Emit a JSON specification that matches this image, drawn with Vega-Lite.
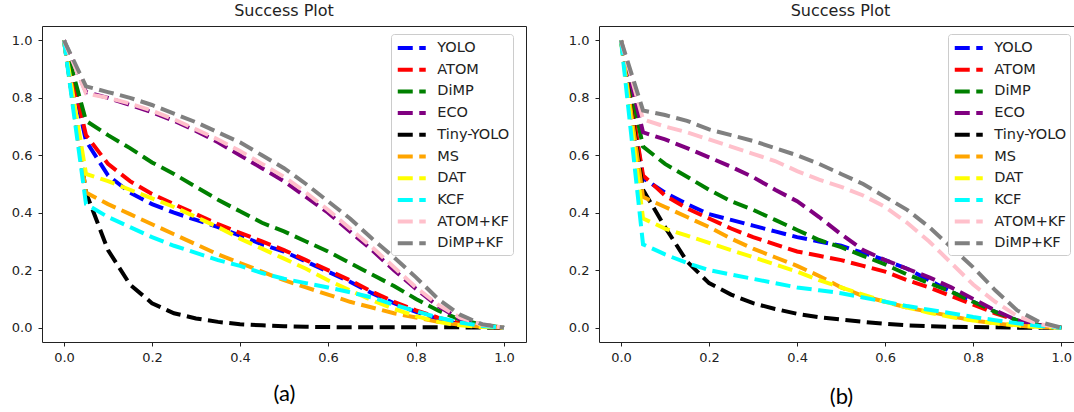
{
"$schema": "https://vega.github.io/schema/vega-lite/v6.json",
"padding": {"left": 10, "top": 2, "right": 0, "bottom": 0},
"background": "white",
"spacing": 40,
"config": {
 "font": "DejaVu Sans",
 "view": {"stroke": "#222222", "strokeWidth": 1},
 "axis": {"grid": false, "domain": false, "tickColor": "#222222", "tickSize": 4, "labelFontSize": 13, "labelColor": "#222222", "labelFont": "DejaVu Sans"},
 "title": {"fontSize": 16, "fontWeight": "normal", "color": "#222222", "offset": 7, "font": "DejaVu Sans"},
 "legend": {"orient": "none", "legendX": 349, "legendY": 8, "padding": 3, "fillColor": "white", "strokeColor": "#cccccc", "cornerRadius": 3, "labelFontSize": 14.5, "labelColor": "#222222", "labelFont": "DejaVu Sans", "symbolType": "M-1.6,0H1.6", "symbolSize": 306, "symbolStrokeWidth": 4, "symbolDash": [15, 6.5], "symbolOffset": 6.75, "rowPadding": 2.7, "labelOffset": 14.5, "title": null}
},
"datasets": {
"a": [
{"s":"YOLO","x":0,"y":1},{"s":"YOLO","x":0.05,"y":0.65},{"s":"YOLO","x":0.1,"y":0.53},{"s":"YOLO","x":0.15,"y":0.47},{"s":"YOLO","x":0.2,"y":0.43},{"s":"YOLO","x":0.25,"y":0.40},{"s":"YOLO","x":0.3,"y":0.375},{"s":"YOLO","x":0.35,"y":0.35},{"s":"YOLO","x":0.4,"y":0.32},{"s":"YOLO","x":0.45,"y":0.29},{"s":"YOLO","x":0.5,"y":0.265},{"s":"YOLO","x":0.55,"y":0.23},{"s":"YOLO","x":0.6,"y":0.195},{"s":"YOLO","x":0.65,"y":0.16},{"s":"YOLO","x":0.7,"y":0.12},{"s":"YOLO","x":0.75,"y":0.085},{"s":"YOLO","x":0.8,"y":0.055},{"s":"YOLO","x":0.85,"y":0.03},{"s":"YOLO","x":0.9,"y":0.012},{"s":"YOLO","x":0.95,"y":0.004},{"s":"YOLO","x":1,"y":0},
{"s":"ATOM","x":0,"y":1},{"s":"ATOM","x":0.05,"y":0.67},{"s":"ATOM","x":0.1,"y":0.57},{"s":"ATOM","x":0.15,"y":0.51},{"s":"ATOM","x":0.2,"y":0.465},{"s":"ATOM","x":0.25,"y":0.43},{"s":"ATOM","x":0.3,"y":0.395},{"s":"ATOM","x":0.35,"y":0.36},{"s":"ATOM","x":0.4,"y":0.33},{"s":"ATOM","x":0.45,"y":0.30},{"s":"ATOM","x":0.5,"y":0.27},{"s":"ATOM","x":0.55,"y":0.235},{"s":"ATOM","x":0.6,"y":0.20},{"s":"ATOM","x":0.65,"y":0.165},{"s":"ATOM","x":0.7,"y":0.125},{"s":"ATOM","x":0.75,"y":0.09},{"s":"ATOM","x":0.8,"y":0.06},{"s":"ATOM","x":0.85,"y":0.035},{"s":"ATOM","x":0.9,"y":0.015},{"s":"ATOM","x":0.95,"y":0.005},{"s":"ATOM","x":1,"y":0},
{"s":"DiMP","x":0,"y":1},{"s":"DiMP","x":0.05,"y":0.72},{"s":"DiMP","x":0.1,"y":0.67},{"s":"DiMP","x":0.15,"y":0.625},{"s":"DiMP","x":0.2,"y":0.575},{"s":"DiMP","x":0.25,"y":0.535},{"s":"DiMP","x":0.3,"y":0.49},{"s":"DiMP","x":0.35,"y":0.445},{"s":"DiMP","x":0.4,"y":0.405},{"s":"DiMP","x":0.45,"y":0.365},{"s":"DiMP","x":0.5,"y":0.335},{"s":"DiMP","x":0.55,"y":0.30},{"s":"DiMP","x":0.6,"y":0.265},{"s":"DiMP","x":0.65,"y":0.225},{"s":"DiMP","x":0.7,"y":0.185},{"s":"DiMP","x":0.75,"y":0.145},{"s":"DiMP","x":0.8,"y":0.10},{"s":"DiMP","x":0.85,"y":0.06},{"s":"DiMP","x":0.9,"y":0.028},{"s":"DiMP","x":0.95,"y":0.01},{"s":"DiMP","x":1,"y":0},
{"s":"ECO","x":0,"y":1},{"s":"ECO","x":0.05,"y":0.82},{"s":"ECO","x":0.1,"y":0.80},{"s":"ECO","x":0.15,"y":0.775},{"s":"ECO","x":0.2,"y":0.75},{"s":"ECO","x":0.25,"y":0.72},{"s":"ECO","x":0.3,"y":0.685},{"s":"ECO","x":0.35,"y":0.645},{"s":"ECO","x":0.4,"y":0.60},{"s":"ECO","x":0.45,"y":0.555},{"s":"ECO","x":0.5,"y":0.51},{"s":"ECO","x":0.55,"y":0.455},{"s":"ECO","x":0.6,"y":0.40},{"s":"ECO","x":0.65,"y":0.335},{"s":"ECO","x":0.7,"y":0.27},{"s":"ECO","x":0.75,"y":0.20},{"s":"ECO","x":0.8,"y":0.135},{"s":"ECO","x":0.85,"y":0.075},{"s":"ECO","x":0.9,"y":0.03},{"s":"ECO","x":0.95,"y":0.01},{"s":"ECO","x":1,"y":0},
{"s":"Tiny-YOLO","x":0,"y":1},{"s":"Tiny-YOLO","x":0.05,"y":0.47},{"s":"Tiny-YOLO","x":0.1,"y":0.27},{"s":"Tiny-YOLO","x":0.15,"y":0.15},{"s":"Tiny-YOLO","x":0.2,"y":0.085},{"s":"Tiny-YOLO","x":0.25,"y":0.05},{"s":"Tiny-YOLO","x":0.3,"y":0.032},{"s":"Tiny-YOLO","x":0.35,"y":0.02},{"s":"Tiny-YOLO","x":0.4,"y":0.012},{"s":"Tiny-YOLO","x":0.45,"y":0.008},{"s":"Tiny-YOLO","x":0.5,"y":0.005},{"s":"Tiny-YOLO","x":0.55,"y":0.003},{"s":"Tiny-YOLO","x":0.6,"y":0.002},{"s":"Tiny-YOLO","x":0.65,"y":0.001},{"s":"Tiny-YOLO","x":0.7,"y":0.001},{"s":"Tiny-YOLO","x":0.75,"y":0.001},{"s":"Tiny-YOLO","x":0.8,"y":0.001},{"s":"Tiny-YOLO","x":0.85,"y":0.001},{"s":"Tiny-YOLO","x":0.9,"y":0.001},{"s":"Tiny-YOLO","x":0.95,"y":0},{"s":"Tiny-YOLO","x":1,"y":0},
{"s":"MS","x":0,"y":1},{"s":"MS","x":0.05,"y":0.47},{"s":"MS","x":0.1,"y":0.43},{"s":"MS","x":0.15,"y":0.395},{"s":"MS","x":0.2,"y":0.36},{"s":"MS","x":0.25,"y":0.325},{"s":"MS","x":0.3,"y":0.29},{"s":"MS","x":0.35,"y":0.255},{"s":"MS","x":0.4,"y":0.225},{"s":"MS","x":0.45,"y":0.195},{"s":"MS","x":0.5,"y":0.165},{"s":"MS","x":0.55,"y":0.14},{"s":"MS","x":0.6,"y":0.115},{"s":"MS","x":0.65,"y":0.09},{"s":"MS","x":0.7,"y":0.07},{"s":"MS","x":0.75,"y":0.05},{"s":"MS","x":0.8,"y":0.035},{"s":"MS","x":0.85,"y":0.02},{"s":"MS","x":0.9,"y":0.01},{"s":"MS","x":0.95,"y":0.003},{"s":"MS","x":1,"y":0},
{"s":"DAT","x":0,"y":1},{"s":"DAT","x":0.05,"y":0.535},{"s":"DAT","x":0.1,"y":0.51},{"s":"DAT","x":0.15,"y":0.48},{"s":"DAT","x":0.2,"y":0.45},{"s":"DAT","x":0.25,"y":0.42},{"s":"DAT","x":0.3,"y":0.385},{"s":"DAT","x":0.35,"y":0.35},{"s":"DAT","x":0.4,"y":0.31},{"s":"DAT","x":0.45,"y":0.275},{"s":"DAT","x":0.5,"y":0.24},{"s":"DAT","x":0.55,"y":0.205},{"s":"DAT","x":0.6,"y":0.165},{"s":"DAT","x":0.65,"y":0.13},{"s":"DAT","x":0.7,"y":0.095},{"s":"DAT","x":0.75,"y":0.065},{"s":"DAT","x":0.8,"y":0.04},{"s":"DAT","x":0.85,"y":0.02},{"s":"DAT","x":0.9,"y":0.008},{"s":"DAT","x":0.95,"y":0.002},{"s":"DAT","x":1,"y":0},
{"s":"KCF","x":0,"y":1},{"s":"KCF","x":0.05,"y":0.43},{"s":"KCF","x":0.1,"y":0.385},{"s":"KCF","x":0.15,"y":0.35},{"s":"KCF","x":0.2,"y":0.315},{"s":"KCF","x":0.25,"y":0.285},{"s":"KCF","x":0.3,"y":0.26},{"s":"KCF","x":0.35,"y":0.235},{"s":"KCF","x":0.4,"y":0.215},{"s":"KCF","x":0.45,"y":0.19},{"s":"KCF","x":0.5,"y":0.17},{"s":"KCF","x":0.55,"y":0.155},{"s":"KCF","x":0.6,"y":0.14},{"s":"KCF","x":0.65,"y":0.123},{"s":"KCF","x":0.7,"y":0.105},{"s":"KCF","x":0.75,"y":0.08},{"s":"KCF","x":0.8,"y":0.057},{"s":"KCF","x":0.85,"y":0.035},{"s":"KCF","x":0.9,"y":0.018},{"s":"KCF","x":0.95,"y":0.006},{"s":"KCF","x":1,"y":0},
{"s":"ATOM+KF","x":0,"y":1},{"s":"ATOM+KF","x":0.05,"y":0.815},{"s":"ATOM+KF","x":0.1,"y":0.80},{"s":"ATOM+KF","x":0.15,"y":0.78},{"s":"ATOM+KF","x":0.2,"y":0.755},{"s":"ATOM+KF","x":0.25,"y":0.725},{"s":"ATOM+KF","x":0.3,"y":0.69},{"s":"ATOM+KF","x":0.35,"y":0.655},{"s":"ATOM+KF","x":0.4,"y":0.615},{"s":"ATOM+KF","x":0.45,"y":0.57},{"s":"ATOM+KF","x":0.5,"y":0.525},{"s":"ATOM+KF","x":0.55,"y":0.47},{"s":"ATOM+KF","x":0.6,"y":0.41},{"s":"ATOM+KF","x":0.65,"y":0.345},{"s":"ATOM+KF","x":0.7,"y":0.28},{"s":"ATOM+KF","x":0.75,"y":0.21},{"s":"ATOM+KF","x":0.8,"y":0.14},{"s":"ATOM+KF","x":0.85,"y":0.08},{"s":"ATOM+KF","x":0.9,"y":0.035},{"s":"ATOM+KF","x":0.95,"y":0.01},{"s":"ATOM+KF","x":1,"y":0},
{"s":"DiMP+KF","x":0,"y":1},{"s":"DiMP+KF","x":0.05,"y":0.84},{"s":"DiMP+KF","x":0.1,"y":0.82},{"s":"DiMP+KF","x":0.15,"y":0.80},{"s":"DiMP+KF","x":0.2,"y":0.775},{"s":"DiMP+KF","x":0.25,"y":0.745},{"s":"DiMP+KF","x":0.3,"y":0.715},{"s":"DiMP+KF","x":0.35,"y":0.68},{"s":"DiMP+KF","x":0.4,"y":0.645},{"s":"DiMP+KF","x":0.45,"y":0.60},{"s":"DiMP+KF","x":0.5,"y":0.555},{"s":"DiMP+KF","x":0.55,"y":0.50},{"s":"DiMP+KF","x":0.6,"y":0.44},{"s":"DiMP+KF","x":0.65,"y":0.38},{"s":"DiMP+KF","x":0.7,"y":0.31},{"s":"DiMP+KF","x":0.75,"y":0.245},{"s":"DiMP+KF","x":0.8,"y":0.175},{"s":"DiMP+KF","x":0.85,"y":0.10},{"s":"DiMP+KF","x":0.9,"y":0.045},{"s":"DiMP+KF","x":0.95,"y":0.012},{"s":"DiMP+KF","x":1,"y":0}
],
"b": [
{"s":"YOLO","x":0,"y":1},{"s":"YOLO","x":0.05,"y":0.52},{"s":"YOLO","x":0.1,"y":0.47},{"s":"YOLO","x":0.15,"y":0.43},{"s":"YOLO","x":0.2,"y":0.395},{"s":"YOLO","x":0.25,"y":0.375},{"s":"YOLO","x":0.3,"y":0.355},{"s":"YOLO","x":0.35,"y":0.335},{"s":"YOLO","x":0.4,"y":0.315},{"s":"YOLO","x":0.45,"y":0.30},{"s":"YOLO","x":0.5,"y":0.285},{"s":"YOLO","x":0.55,"y":0.26},{"s":"YOLO","x":0.6,"y":0.235},{"s":"YOLO","x":0.65,"y":0.205},{"s":"YOLO","x":0.7,"y":0.165},{"s":"YOLO","x":0.75,"y":0.125},{"s":"YOLO","x":0.8,"y":0.09},{"s":"YOLO","x":0.85,"y":0.055},{"s":"YOLO","x":0.9,"y":0.025},{"s":"YOLO","x":0.95,"y":0.008},{"s":"YOLO","x":1,"y":0},
{"s":"ATOM","x":0,"y":1},{"s":"ATOM","x":0.05,"y":0.53},{"s":"ATOM","x":0.1,"y":0.46},{"s":"ATOM","x":0.15,"y":0.415},{"s":"ATOM","x":0.2,"y":0.38},{"s":"ATOM","x":0.25,"y":0.345},{"s":"ATOM","x":0.3,"y":0.315},{"s":"ATOM","x":0.35,"y":0.29},{"s":"ATOM","x":0.4,"y":0.265},{"s":"ATOM","x":0.45,"y":0.25},{"s":"ATOM","x":0.5,"y":0.235},{"s":"ATOM","x":0.55,"y":0.215},{"s":"ATOM","x":0.6,"y":0.195},{"s":"ATOM","x":0.65,"y":0.165},{"s":"ATOM","x":0.7,"y":0.14},{"s":"ATOM","x":0.75,"y":0.11},{"s":"ATOM","x":0.8,"y":0.08},{"s":"ATOM","x":0.85,"y":0.05},{"s":"ATOM","x":0.9,"y":0.025},{"s":"ATOM","x":0.95,"y":0.008},{"s":"ATOM","x":1,"y":0},
{"s":"DiMP","x":0,"y":1},{"s":"DiMP","x":0.05,"y":0.63},{"s":"DiMP","x":0.1,"y":0.57},{"s":"DiMP","x":0.15,"y":0.525},{"s":"DiMP","x":0.2,"y":0.48},{"s":"DiMP","x":0.25,"y":0.44},{"s":"DiMP","x":0.3,"y":0.41},{"s":"DiMP","x":0.35,"y":0.375},{"s":"DiMP","x":0.4,"y":0.34},{"s":"DiMP","x":0.45,"y":0.305},{"s":"DiMP","x":0.5,"y":0.28},{"s":"DiMP","x":0.55,"y":0.25},{"s":"DiMP","x":0.6,"y":0.22},{"s":"DiMP","x":0.65,"y":0.185},{"s":"DiMP","x":0.7,"y":0.155},{"s":"DiMP","x":0.75,"y":0.125},{"s":"DiMP","x":0.8,"y":0.09},{"s":"DiMP","x":0.85,"y":0.055},{"s":"DiMP","x":0.9,"y":0.025},{"s":"DiMP","x":0.95,"y":0.008},{"s":"DiMP","x":1,"y":0},
{"s":"ECO","x":0,"y":1},{"s":"ECO","x":0.05,"y":0.68},{"s":"ECO","x":0.1,"y":0.655},{"s":"ECO","x":0.15,"y":0.625},{"s":"ECO","x":0.2,"y":0.593},{"s":"ECO","x":0.25,"y":0.56},{"s":"ECO","x":0.3,"y":0.524},{"s":"ECO","x":0.35,"y":0.48},{"s":"ECO","x":0.4,"y":0.44},{"s":"ECO","x":0.45,"y":0.385},{"s":"ECO","x":0.5,"y":0.325},{"s":"ECO","x":0.55,"y":0.27},{"s":"ECO","x":0.6,"y":0.235},{"s":"ECO","x":0.65,"y":0.205},{"s":"ECO","x":0.7,"y":0.175},{"s":"ECO","x":0.75,"y":0.14},{"s":"ECO","x":0.8,"y":0.10},{"s":"ECO","x":0.85,"y":0.06},{"s":"ECO","x":0.9,"y":0.025},{"s":"ECO","x":0.95,"y":0.008},{"s":"ECO","x":1,"y":0},
{"s":"Tiny-YOLO","x":0,"y":1},{"s":"Tiny-YOLO","x":0.05,"y":0.48},{"s":"Tiny-YOLO","x":0.1,"y":0.35},{"s":"Tiny-YOLO","x":0.15,"y":0.23},{"s":"Tiny-YOLO","x":0.2,"y":0.155},{"s":"Tiny-YOLO","x":0.25,"y":0.115},{"s":"Tiny-YOLO","x":0.3,"y":0.085},{"s":"Tiny-YOLO","x":0.35,"y":0.065},{"s":"Tiny-YOLO","x":0.4,"y":0.048},{"s":"Tiny-YOLO","x":0.45,"y":0.036},{"s":"Tiny-YOLO","x":0.5,"y":0.028},{"s":"Tiny-YOLO","x":0.55,"y":0.02},{"s":"Tiny-YOLO","x":0.6,"y":0.013},{"s":"Tiny-YOLO","x":0.65,"y":0.008},{"s":"Tiny-YOLO","x":0.7,"y":0.005},{"s":"Tiny-YOLO","x":0.75,"y":0.003},{"s":"Tiny-YOLO","x":0.8,"y":0.002},{"s":"Tiny-YOLO","x":0.85,"y":0.001},{"s":"Tiny-YOLO","x":0.9,"y":0},{"s":"Tiny-YOLO","x":0.95,"y":0},{"s":"Tiny-YOLO","x":1,"y":0},
{"s":"MS","x":0,"y":1},{"s":"MS","x":0.05,"y":0.455},{"s":"MS","x":0.1,"y":0.42},{"s":"MS","x":0.15,"y":0.385},{"s":"MS","x":0.2,"y":0.35},{"s":"MS","x":0.25,"y":0.31},{"s":"MS","x":0.3,"y":0.275},{"s":"MS","x":0.35,"y":0.245},{"s":"MS","x":0.4,"y":0.215},{"s":"MS","x":0.45,"y":0.18},{"s":"MS","x":0.5,"y":0.14},{"s":"MS","x":0.55,"y":0.11},{"s":"MS","x":0.6,"y":0.09},{"s":"MS","x":0.65,"y":0.07},{"s":"MS","x":0.7,"y":0.055},{"s":"MS","x":0.75,"y":0.04},{"s":"MS","x":0.8,"y":0.025},{"s":"MS","x":0.85,"y":0.015},{"s":"MS","x":0.9,"y":0.007},{"s":"MS","x":0.95,"y":0.002},{"s":"MS","x":1,"y":0},
{"s":"DAT","x":0,"y":1},{"s":"DAT","x":0.05,"y":0.38},{"s":"DAT","x":0.1,"y":0.345},{"s":"DAT","x":0.15,"y":0.32},{"s":"DAT","x":0.2,"y":0.295},{"s":"DAT","x":0.25,"y":0.27},{"s":"DAT","x":0.3,"y":0.245},{"s":"DAT","x":0.35,"y":0.22},{"s":"DAT","x":0.4,"y":0.195},{"s":"DAT","x":0.45,"y":0.165},{"s":"DAT","x":0.5,"y":0.14},{"s":"DAT","x":0.55,"y":0.115},{"s":"DAT","x":0.6,"y":0.09},{"s":"DAT","x":0.65,"y":0.07},{"s":"DAT","x":0.7,"y":0.052},{"s":"DAT","x":0.75,"y":0.037},{"s":"DAT","x":0.8,"y":0.025},{"s":"DAT","x":0.85,"y":0.015},{"s":"DAT","x":0.9,"y":0.008},{"s":"DAT","x":0.95,"y":0.002},{"s":"DAT","x":1,"y":0},
{"s":"KCF","x":0,"y":1},{"s":"KCF","x":0.05,"y":0.29},{"s":"KCF","x":0.1,"y":0.255},{"s":"KCF","x":0.15,"y":0.225},{"s":"KCF","x":0.2,"y":0.20},{"s":"KCF","x":0.25,"y":0.185},{"s":"KCF","x":0.3,"y":0.17},{"s":"KCF","x":0.35,"y":0.155},{"s":"KCF","x":0.4,"y":0.14},{"s":"KCF","x":0.45,"y":0.13},{"s":"KCF","x":0.5,"y":0.12},{"s":"KCF","x":0.55,"y":0.105},{"s":"KCF","x":0.6,"y":0.09},{"s":"KCF","x":0.65,"y":0.075},{"s":"KCF","x":0.7,"y":0.062},{"s":"KCF","x":0.75,"y":0.05},{"s":"KCF","x":0.8,"y":0.037},{"s":"KCF","x":0.85,"y":0.026},{"s":"KCF","x":0.9,"y":0.015},{"s":"KCF","x":0.95,"y":0.006},{"s":"KCF","x":1,"y":0},
{"s":"ATOM+KF","x":0,"y":1},{"s":"ATOM+KF","x":0.05,"y":0.725},{"s":"ATOM+KF","x":0.1,"y":0.70},{"s":"ATOM+KF","x":0.15,"y":0.68},{"s":"ATOM+KF","x":0.2,"y":0.655},{"s":"ATOM+KF","x":0.25,"y":0.63},{"s":"ATOM+KF","x":0.3,"y":0.605},{"s":"ATOM+KF","x":0.35,"y":0.58},{"s":"ATOM+KF","x":0.4,"y":0.545},{"s":"ATOM+KF","x":0.45,"y":0.515},{"s":"ATOM+KF","x":0.5,"y":0.49},{"s":"ATOM+KF","x":0.55,"y":0.46},{"s":"ATOM+KF","x":0.6,"y":0.42},{"s":"ATOM+KF","x":0.65,"y":0.365},{"s":"ATOM+KF","x":0.7,"y":0.30},{"s":"ATOM+KF","x":0.75,"y":0.225},{"s":"ATOM+KF","x":0.8,"y":0.15},{"s":"ATOM+KF","x":0.85,"y":0.09},{"s":"ATOM+KF","x":0.9,"y":0.04},{"s":"ATOM+KF","x":0.95,"y":0.012},{"s":"ATOM+KF","x":1,"y":0},
{"s":"DiMP+KF","x":0,"y":1},{"s":"DiMP+KF","x":0.05,"y":0.756},{"s":"DiMP+KF","x":0.1,"y":0.74},{"s":"DiMP+KF","x":0.15,"y":0.72},{"s":"DiMP+KF","x":0.2,"y":0.69},{"s":"DiMP+KF","x":0.25,"y":0.67},{"s":"DiMP+KF","x":0.3,"y":0.65},{"s":"DiMP+KF","x":0.35,"y":0.625},{"s":"DiMP+KF","x":0.4,"y":0.60},{"s":"DiMP+KF","x":0.45,"y":0.57},{"s":"DiMP+KF","x":0.5,"y":0.535},{"s":"DiMP+KF","x":0.55,"y":0.50},{"s":"DiMP+KF","x":0.6,"y":0.455},{"s":"DiMP+KF","x":0.65,"y":0.41},{"s":"DiMP+KF","x":0.7,"y":0.35},{"s":"DiMP+KF","x":0.75,"y":0.28},{"s":"DiMP+KF","x":0.8,"y":0.21},{"s":"DiMP+KF","x":0.85,"y":0.13},{"s":"DiMP+KF","x":0.9,"y":0.06},{"s":"DiMP+KF","x":0.95,"y":0.02},{"s":"DiMP+KF","x":1,"y":0}
]
},
"hconcat": [
{
 "data": {"name": "a"},
 "width": 484, "height": 316,
 "title": {"text": "Success Plot"},
 "mark": {"type": "line", "strokeWidth": 4, "strokeDash": [15, 6.5]},
 "encoding": {
  "x": {"field": "x", "type": "quantitative", "scale": {"domain": [-0.05, 1.05], "nice": false, "zero": false},
        "axis": {"values": [0, 0.2, 0.4, 0.6, 0.8, 1], "format": ".1f", "labelPadding": 5, "title": "(a)", "titleFont": "Lato", "titleFontSize": 22, "titleFontWeight": "normal", "titleColor": "#000000", "titlePadding": 19}},
  "y": {"field": "y", "type": "quantitative", "scale": {"domain": [-0.05, 1.05], "nice": false, "zero": false},
        "axis": {"values": [0, 0.2, 0.4, 0.6, 0.8, 1], "format": ".1f", "labelPadding": 6, "title": null}},
  "color": {"field": "s", "type": "nominal",
        "scale": {"domain": ["YOLO", "ATOM", "DiMP", "ECO", "Tiny-YOLO", "MS", "DAT", "KCF", "ATOM+KF", "DiMP+KF"],
                  "range": ["#0000ff", "#ff0000", "#008000", "#800080", "#000000", "#ffa500", "#ffff00", "#00ffff", "#ffc0cb", "#808080"]},
        "legend": {"title": null}}
 }
},
{
 "data": {"name": "b"},
 "width": 477, "height": 316,
 "title": {"text": "Success Plot", "dx": 3},
 "mark": {"type": "line", "strokeWidth": 4, "strokeDash": [15, 6.5]},
 "encoding": {
  "x": {"field": "x", "type": "quantitative", "scale": {"domain": [-0.05, 1.0335], "nice": false, "zero": false},
        "axis": {"values": [0, 0.2, 0.4, 0.6, 0.8, 1], "format": ".1f", "labelPadding": 5, "title": "(b)", "titleFont": "Lato", "titleFontSize": 22, "titleFontWeight": "normal", "titleColor": "#000000", "titlePadding": 22, "titleX": 242}},
  "y": {"field": "y", "type": "quantitative", "scale": {"domain": [-0.05, 1.05], "nice": false, "zero": false},
        "axis": {"values": [0, 0.2, 0.4, 0.6, 0.8, 1], "format": ".1f", "labelPadding": 6, "title": null}},
  "color": {"field": "s", "type": "nominal",
        "scale": {"domain": ["YOLO", "ATOM", "DiMP", "ECO", "Tiny-YOLO", "MS", "DAT", "KCF", "ATOM+KF", "DiMP+KF"],
                  "range": ["#0000ff", "#ff0000", "#008000", "#800080", "#000000", "#ffa500", "#ffff00", "#00ffff", "#ffc0cb", "#808080"]},
        "legend": {"title": null}}
 }
}
],
"resolve": {"scale": {"color": "independent"}, "legend": {"color": "independent"}}
}
